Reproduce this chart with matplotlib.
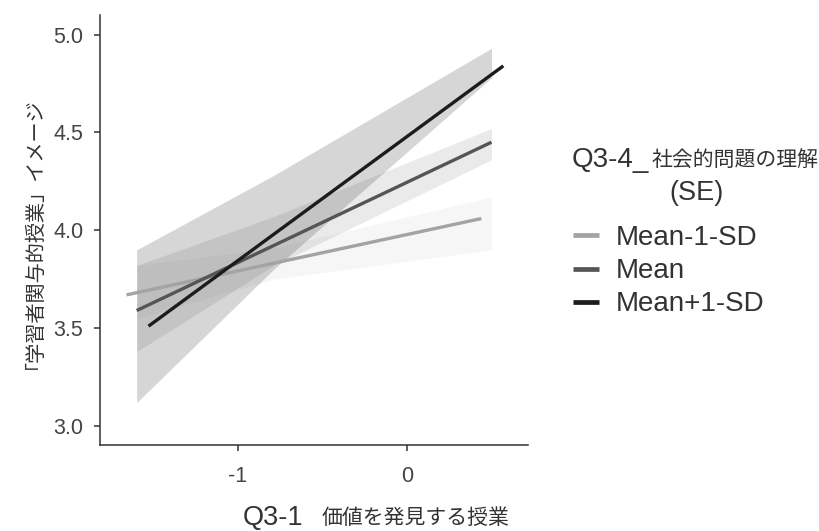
import numpy as np
import matplotlib.pyplot as plt

W, H = 820, 531
JP = ['Noto Sans CJK JP', 'DejaVu Sans']
LAT = ['Liberation Sans', 'DejaVu Sans']

levels = ['Mean-1-SD', 'Mean', 'Mean+1-SD']
colors = ['#a3a3a3', '#555555', '#1c1c1c']
band_alpha = [0.09, 0.12, 0.18]

# fitted simple slopes (start, end)
line_x = [[-1.66, 0.44], [-1.60, 0.50], [-1.53, 0.57]]
line_y = [[3.67, 4.06], [3.59, 4.45], [3.51, 4.84]]

# SE bands
band_x = [-1.60, -0.79, 0.50]
band_lo = [[3.55, 3.75, 3.90], [3.38, 3.82, 4.36], [3.12, 3.80, 4.78]]
band_hi = [[3.82, 3.91, 4.17], [3.82, 4.07, 4.52], [3.90, 4.28, 4.93]]

xticks = [-1, 0]
yticks = [3.0, 3.5, 4.0, 4.5, 5.0]

fig = plt.figure(figsize=(W / 100, H / 100), dpi=100)
ax = fig.add_axes([100 / W, 1 - 445 / H, 428 / W, 430 / H])

for i in range(3):
    ax.fill_between(band_x, band_lo[i], band_hi[i], color=colors[i], alpha=band_alpha[i], lw=0)
handles = []
for i in range(3):
    h, = ax.plot(line_x[i], line_y[i], color=colors[i], lw=2.4, solid_capstyle='butt', label=levels[i])
    handles.append(h)

ax.set_xlim(-1.817, 0.716)
ax.set_ylim(2.903, 5.10)
ax.set_xticks(xticks)
ax.set_xticklabels([str(t) for t in xticks])
ax.set_yticks(yticks)
ax.set_yticklabels(['%.1f' % t for t in yticks])
for s in ['top', 'right']:
    ax.spines[s].set_visible(False)
for s in ['left', 'bottom']:
    ax.spines[s].set_color('#333333')
    ax.spines[s].set_linewidth(1.1)
ax.tick_params(axis='both', length=4, width=1.1, color='#333333', labelcolor='#444444', labelsize=15.5)
ax.tick_params(axis='x', pad=11)
ax.tick_params(axis='y', pad=8)
for lab in ax.get_xticklabels() + ax.get_yticklabels():
    lab.set_family(LAT)

# axis titles
fig.text(243 / W, 1 - 518 / H, 'Q3-1', family=LAT, fontsize=19.5, color='#333333', ha='left', va='center')
fig.text(322 / W, 1 - 518 / H, '価値を発見する授業', family=JP, fontsize=15, color='#333333', ha='left', va='center')
fig.text(24 / W, 1 - 228 / H, '「学習者関与的授業」イメージ', family=JP, fontsize=14.5, color='#333333',
         rotation=90, ha='center', va='center')

# legend
fig.text(572 / W, 1 - 160 / H, 'Q3-4_', family=LAT, fontsize=20, color='#333333', ha='left', va='center')
fig.text(652 / W, 1 - 160 / H, '社会的問題の理解', family=JP, fontsize=15, color='#333333', ha='left', va='center')
fig.text(697 / W, 1 - 193 / H, '(SE)', family=LAT, fontsize=19.5, color='#333333', ha='center', va='center')
leg = fig.legend(handles=handles, loc='upper left', bbox_to_anchor=(573 / W, 1 - 225 / H),
                 frameon=False, prop={'family': LAT, 'size': 20}, handlelength=0.94,
                 handletextpad=0.6, labelspacing=0.26, borderaxespad=0, borderpad=0)
for t in leg.get_texts():
    t.set_color('#333333')
for lh in leg.get_lines():
    lh.set_linewidth(3.4)

fig.savefig('out.png', dpi=100)
